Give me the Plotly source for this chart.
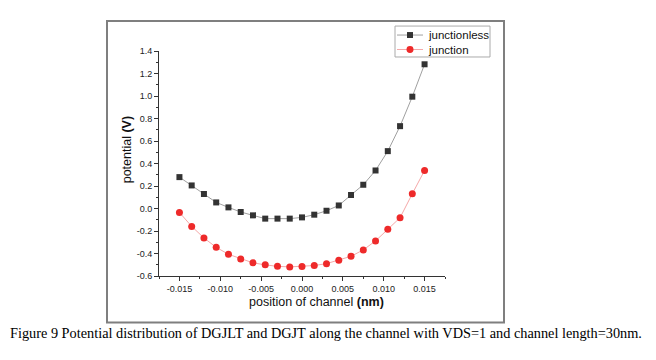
import plotly.graph_objects as go

x_pos = [round(-0.015 + 0.0015 * i, 4) for i in range(21)]

junctionless = [0.279, 0.205, 0.129, 0.054, 0.010, -0.031, -0.061, -0.090, -0.090, -0.090,
                -0.079, -0.055, -0.020, 0.027, 0.120, 0.211, 0.338, 0.510, 0.732, 0.994, 1.282]
junction = [-0.035, -0.159, -0.262, -0.345, -0.407, -0.448, -0.483, -0.501, -0.514, -0.519,
            -0.516, -0.507, -0.490, -0.460, -0.425, -0.368, -0.288, -0.185, -0.082, 0.131, 0.338]

series_names = ["junctionless", "junction"]

x_ticks = [-0.015, -0.010, -0.005, 0.0, 0.005, 0.010, 0.015]
x_ticktext = ["-0.015", "-0.010", "-0.005", "0.000", "0.005", "0.010", "0.015"]
y_ticks = [-0.6, -0.4, -0.2, 0.0, 0.2, 0.4, 0.6, 0.8, 1.0, 1.2, 1.4]
y_ticktext = ["-0.6", "-0.4", "-0.2", "0.0", "0.2", "0.4", "0.6", "0.8", "1.0", "1.2", "1.4"]

W, H = 656, 360
L, R = 159, 445
T, B = 51, 276.5

def px(xp):
    return (xp - L) / (R - L)

def py(yp):
    return (B - yp) / (B - T)

LINE1, MARK1 = "#a0a0a0", "#333333"
LINE2, MARK2 = "#f5a8a8", "#ee2a2a"

fig = go.Figure()
fig.add_trace(go.Scatter(
    x=x_pos, y=junctionless, mode="lines+markers", name=series_names[0],
    line=dict(color=LINE1, width=1),
    marker=dict(symbol="square", size=6, color=MARK1),
))
fig.add_trace(go.Scatter(
    x=x_pos, y=junction, mode="lines+markers", name=series_names[1],
    line=dict(color=LINE2, width=1),
    marker=dict(symbol="circle", size=7, color=MARK2),
))

axis_font = dict(family="Liberation Sans, Arial", size=9, color="#222222")
fig.update_xaxes(
    range=[-0.0175, 0.0175], tickvals=x_ticks, ticktext=x_ticktext,
    showgrid=False, zeroline=False, showline=True, linecolor="#333333", linewidth=1,
    ticks="outside", ticklen=4, tickcolor="#333333", tickfont=axis_font,
    minor=dict(ticks="outside", ticklen=2, dtick=0.0025, tickcolor="#333333", tick0=0),
)
fig.update_yaxes(
    range=[-0.6, 1.4], tickvals=y_ticks, ticktext=y_ticktext,
    showgrid=False, zeroline=False, showline=True, linecolor="#333333", linewidth=1,
    ticks="outside", ticklen=4, tickcolor="#333333", tickfont=axis_font,
    minor=dict(ticks="outside", ticklen=2, dtick=0.1, tickcolor="#333333", tick0=0),
)

# legend (drawn manually for compact Origin-style spacing)
shapes = [
    dict(type="rect", xref="paper", yref="paper",
         x0=px(107), x1=px(504), y0=py(323), y1=py(21),
         line=dict(color="#7f7f7f", width=2), layer="below"),
    dict(type="rect", xref="paper", yref="paper",
         x0=px(395), x1=px(490), y0=py(57), y1=py(26),
         line=dict(color="#aaaaaa", width=1), fillcolor="white"),
    dict(type="line", xref="paper", yref="paper",
         x0=px(397), x1=px(423), y0=py(35), y1=py(35),
         line=dict(color=LINE1, width=1)),
    dict(type="rect", xref="paper", yref="paper",
         x0=px(407), x1=px(413), y0=py(38), y1=py(32),
         line=dict(width=0), fillcolor=MARK1),
    dict(type="line", xref="paper", yref="paper",
         x0=px(397), x1=px(423), y0=py(49.5), y1=py(49.5),
         line=dict(color=LINE2, width=1)),
    dict(type="circle", xref="paper", yref="paper",
         x0=px(406.5), x1=px(413.5), y0=py(53), y1=py(46),
         line=dict(width=0), fillcolor=MARK2),
]

leg_font = dict(family="Liberation Sans, Arial", size=11.5, color="#111111")
title_font = dict(family="Liberation Sans, Arial", size=12.5, color="#111111")

annotations = [
    dict(text=series_names[0], xref="paper", yref="paper", x=px(426), y=py(35),
         showarrow=False, xanchor="left", yanchor="middle", font=leg_font),
    dict(text=series_names[1], xref="paper", yref="paper", x=px(426), y=py(49.5),
         showarrow=False, xanchor="left", yanchor="middle", font=leg_font),
    dict(text="position of channel <b>(nm)</b>", xref="paper", yref="paper",
         x=px(316), y=py(303), showarrow=False, xanchor="center", yanchor="middle",
         font=title_font),
    dict(text="potential <b>(V)</b>", xref="paper", yref="paper",
         x=px(127), y=py(150.5), showarrow=False, textangle=-90,
         xanchor="center", yanchor="middle", font=title_font),
    dict(text="Figure 9 Potential distribution of DGJLT and DGJT along the channel with VDS=1 and channel length=30nm.",
         xref="paper", yref="paper", x=px(8), y=py(333.5), showarrow=False,
         xanchor="left", yanchor="middle",
         font=dict(family="Liberation Serif, Times New Roman", size=14.3, color="black")),
]

fig.update_layout(
    width=W, height=H,
    margin=dict(l=L, r=W - R, t=T, b=H - B),
    paper_bgcolor="white", plot_bgcolor="white",
    showlegend=False,
    hovermode=False,
    shapes=shapes,
    annotations=annotations,
)

fig.write_html(
    "out.html",
    config={"displayModeBar": False, "staticPlot": True},
    post_script="document.body.style.margin='0';document.body.style.overflow='hidden';",
)
